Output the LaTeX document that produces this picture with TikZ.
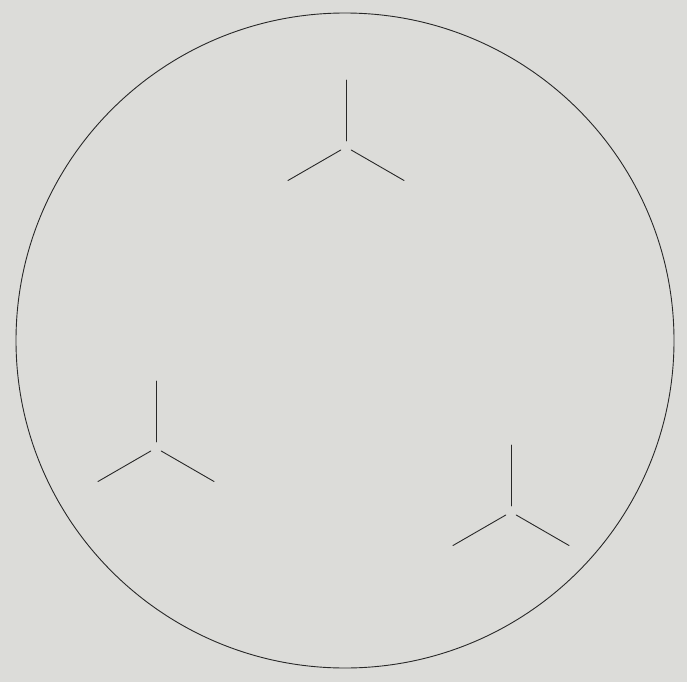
\documentclass[tikz,border=0pt]{standalone}
\usetikzlibrary{calc}
\definecolor{paper}{RGB}{220,220,217}
\definecolor{ink}{RGB}{40,40,40}
\tikzset{
  inkline/.style={draw=ink, line width=0.9pt, line cap=round},
  rim/.style={draw=ink, line width=0.9pt}
}
\begin{document}
\begin{tikzpicture}[x=1pt,y=-1pt]
  \fill[paper] (0,0) rectangle (687,682);
  \useasboundingbox (0,0) rectangle (687,682);
  \draw[rim] (345,340.5) ellipse [x radius=329, y radius=327.5];
  \foreach \name/\cx/\cy in {top/346/147, left/156/448, right/511/512}{
    \coordinate (\name) at (\cx,\cy);
    \foreach \a in {-90,150,30}{
      \draw[inkline] ($(\name)+(\a:6)$) -- ($(\name)+(\a:67)$);
    }
  }
\end{tikzpicture}
\end{document}
